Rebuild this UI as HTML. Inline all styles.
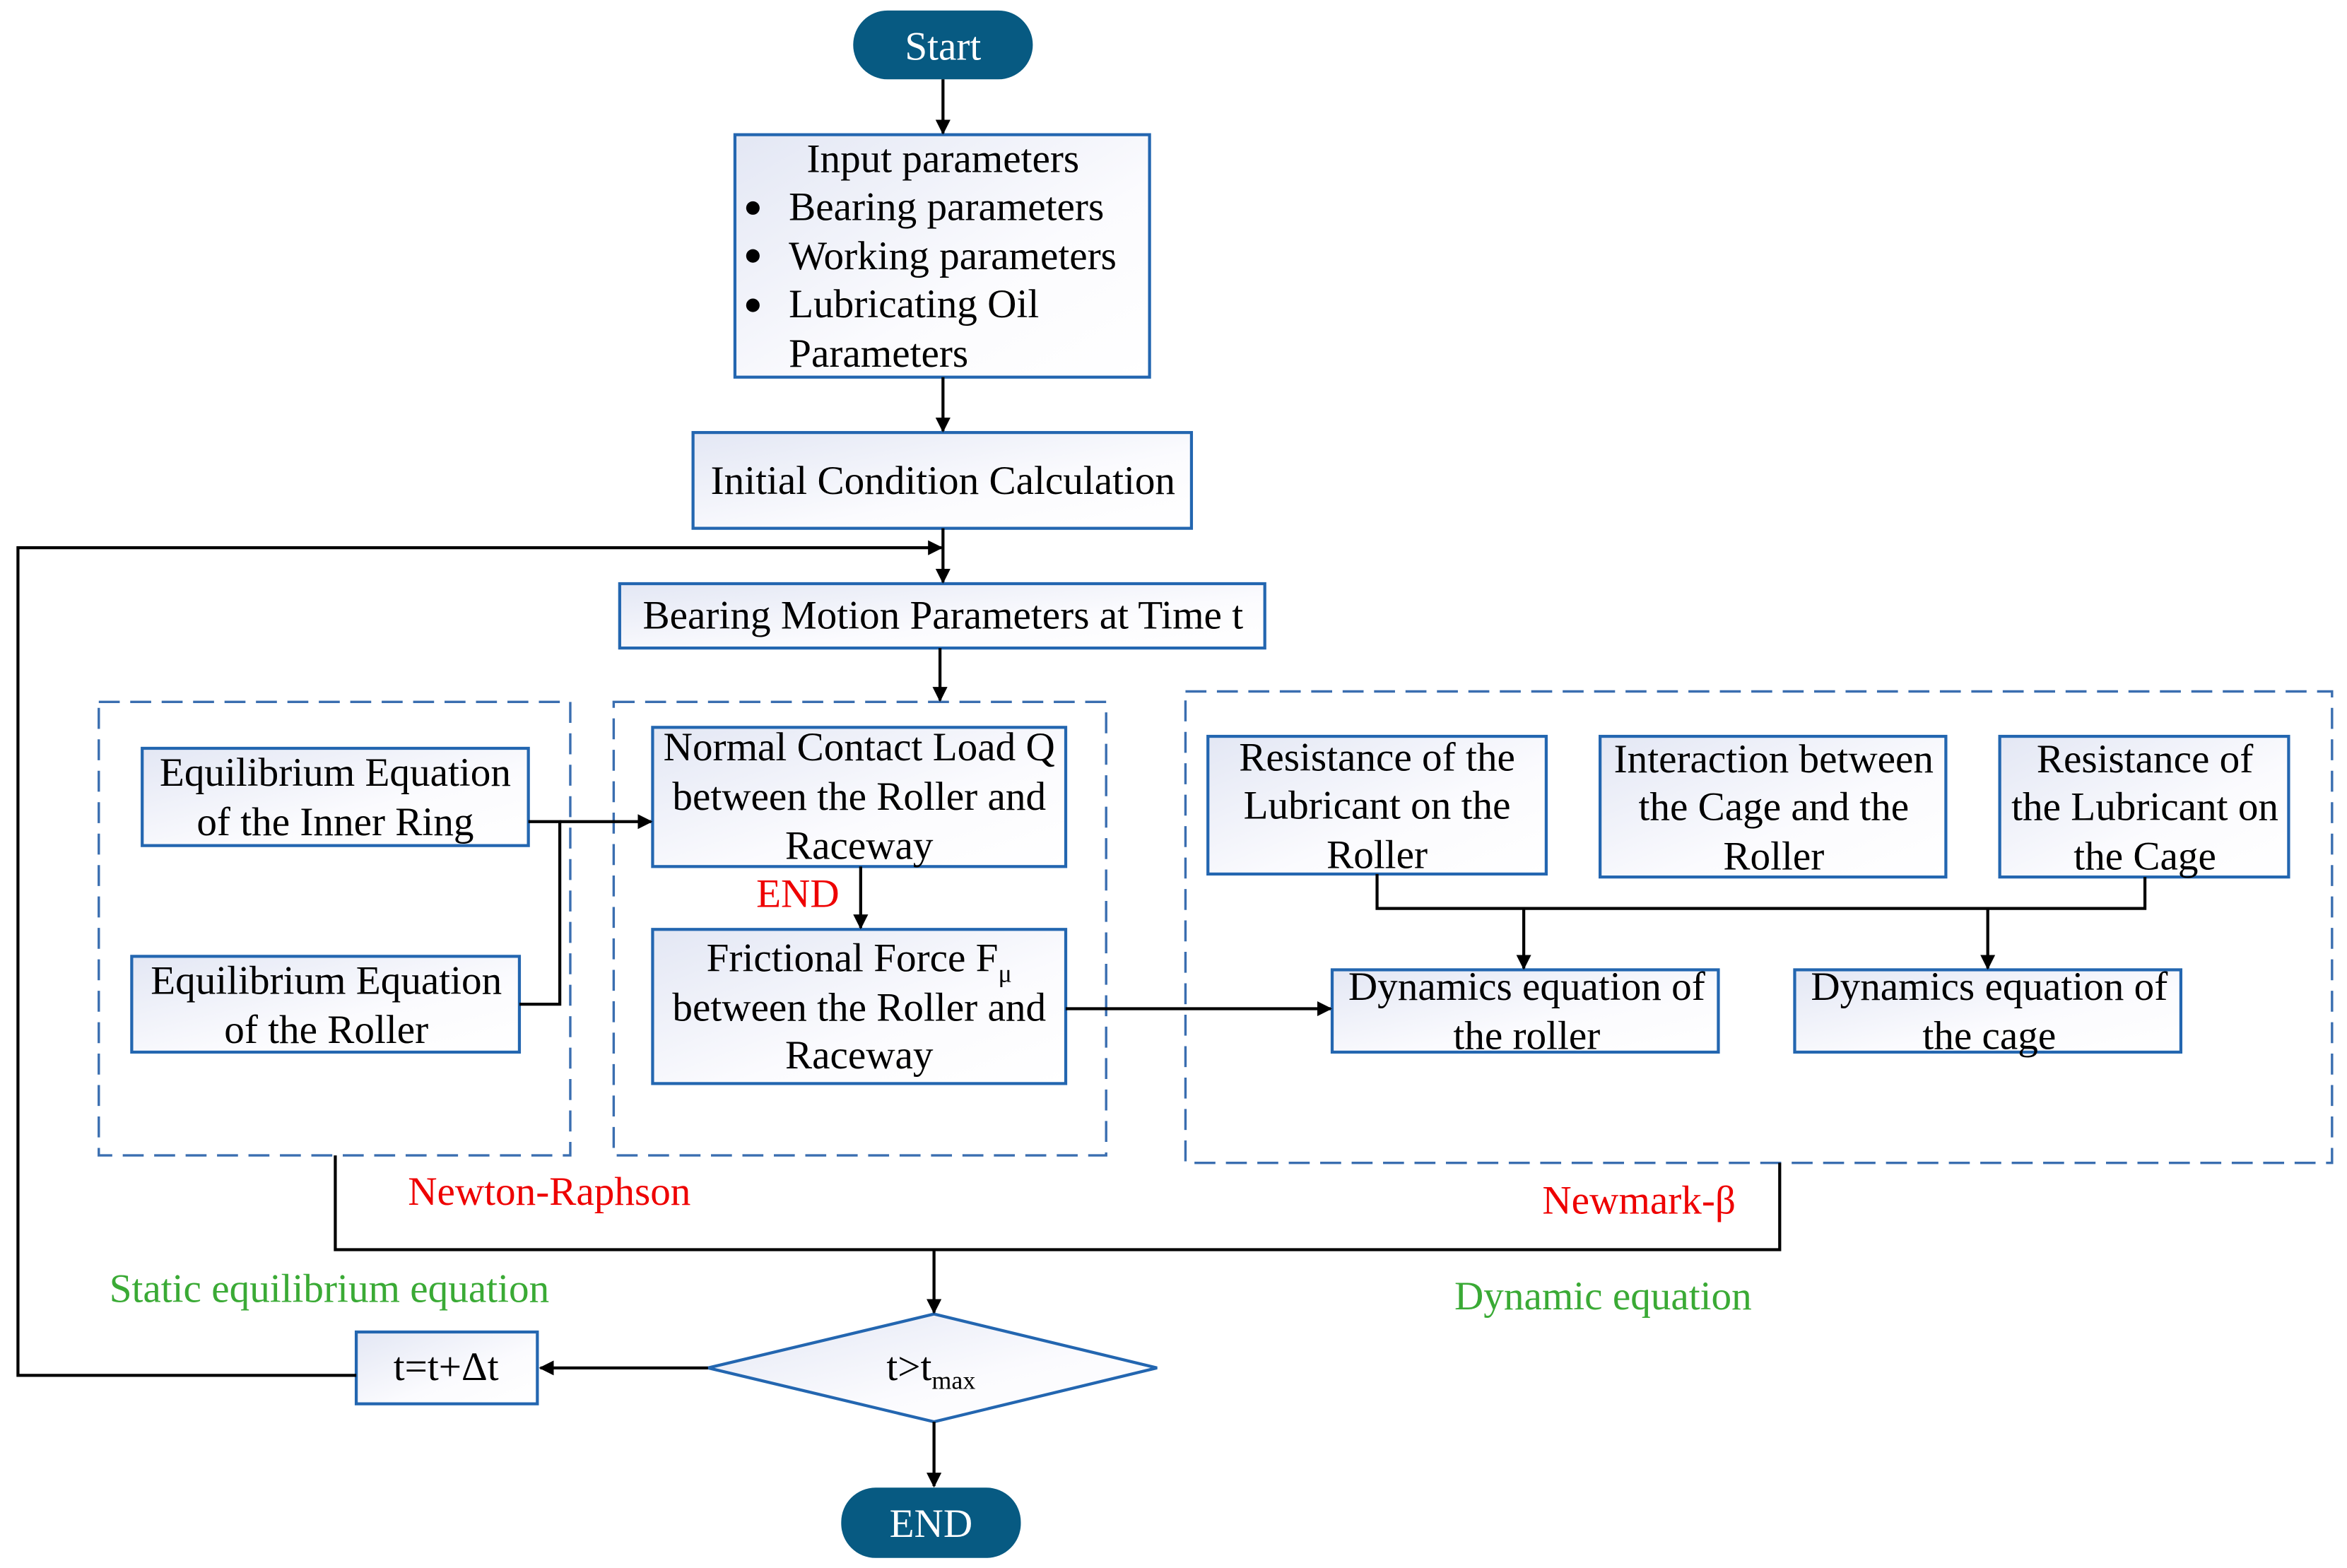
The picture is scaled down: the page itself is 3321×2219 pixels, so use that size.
<!DOCTYPE html>
<html><head><meta charset="utf-8"><style>html,body{margin:0;padding:0;background:#fff}svg{display:block}</style></head>
<body>
<svg width="3321" height="2219" viewBox="0 0 1568 1047.7" preserveAspectRatio="none" xmlns="http://www.w3.org/2000/svg" font-family="Liberation Serif, serif" font-size="27">
<defs>
<linearGradient id="g" x1="0" y1="0" x2="1" y2="1"><stop offset="0" stop-color="#e3e7f4"/><stop offset="0.6" stop-color="#fbfbfe"/><stop offset="1" stop-color="#ffffff"/></linearGradient>
<marker id="a" markerWidth="10" markerHeight="10" refX="9" refY="5" orient="auto" markerUnits="userSpaceOnUse"><path d="M0,0 L10,5 L0,10 Z" fill="#000"/></marker>
</defs>
<g fill="none" stroke="#3a6eb0" stroke-width="1.6" stroke-dasharray="14 7">
<rect x="66" y="469" width="315" height="303"/>
<rect x="410" y="469" width="329" height="303"/>
<rect x="792" y="462" width="766" height="315"/>
</g>
<g fill="url(#g)" stroke="#2366b0" stroke-width="2">
<rect x="491" y="90" width="277" height="162"/>
<rect x="463" y="289" width="333" height="64"/>
<rect x="414" y="390" width="431" height="43"/>
<rect x="95" y="500" width="258" height="65"/>
<rect x="88" y="639" width="259" height="64"/>
<rect x="436" y="486" width="276" height="93"/>
<rect x="436" y="621" width="276" height="103"/>
<rect x="807" y="492" width="226" height="92"/>
<rect x="1069" y="492" width="231" height="94"/>
<rect x="1336" y="492" width="193" height="94"/>
<rect x="890" y="648" width="258" height="55"/>
<rect x="1199" y="648" width="258" height="55"/>
<rect x="238" y="890" width="121" height="48"/>
<polygon points="473,914 624,878 773,914 624,950"/>
</g>
<rect x="570" y="7" width="120" height="46" rx="23" fill="#075a82"/>
<rect x="562" y="994" width="120" height="47" rx="23" fill="#075a82"/>
<g stroke="#000" stroke-width="2" fill="none">
<line x1="630" y1="53" x2="630" y2="89" marker-end="url(#a)"/>
<line x1="630" y1="252" x2="630" y2="288" marker-end="url(#a)"/>
<line x1="630" y1="353" x2="630" y2="389" marker-end="url(#a)"/>
<polyline points="238,919 12,919 12,366 629,366" marker-end="url(#a)"/>
<line x1="628" y1="433" x2="628" y2="468" marker-end="url(#a)"/>
<polyline points="353,549 374,549 374,671 347,671"/>
<line x1="374" y1="549" x2="435" y2="549" marker-end="url(#a)"/>
<line x1="575" y1="579" x2="575" y2="620" marker-end="url(#a)"/>
<line x1="712" y1="674" x2="889" y2="674" marker-end="url(#a)"/>
<polyline points="920,584 920,607 1433,607 1433,586"/>
<line x1="1018" y1="607" x2="1018" y2="647" marker-end="url(#a)"/>
<line x1="1328" y1="607" x2="1328" y2="647" marker-end="url(#a)"/>
<polyline points="224,772 224,835 1189,835 1189,777"/>
<line x1="624" y1="835" x2="624" y2="877" marker-end="url(#a)"/>
<line x1="473" y1="914" x2="361" y2="914" marker-end="url(#a)"/>
<line x1="624" y1="950" x2="624" y2="993" marker-end="url(#a)"/>
</g>
<g fill="#000" text-anchor="middle">
<text x="630" y="40" fill="#fff">Start</text>
<text x="622" y="1027" fill="#fff">END</text>
<text x="630" y="115">Input parameters</text>
<text x="630" y="330">Initial Condition Calculation</text>
<text x="630" y="420">Bearing Motion Parameters at Time t</text>
<text x="224" y="525">Equilibrium Equation</text>
<text x="224" y="558">of the Inner Ring</text>
<text x="218" y="664">Equilibrium Equation</text>
<text x="218" y="697">of the Roller</text>
<text x="574" y="508">Normal Contact Load Q</text>
<text x="574" y="541">between the Roller and</text>
<text x="574" y="574">Raceway</text>
<text x="574" y="649">Frictional Force F<tspan font-size="17" dy="7">μ</tspan></text>
<text x="574" y="682">between the Roller and</text>
<text x="574" y="714">Raceway</text>
<text x="920" y="515">Resistance of the</text>
<text x="920" y="547">Lubricant on the</text>
<text x="920" y="580">Roller</text>
<text x="1185" y="516">Interaction between</text>
<text x="1185" y="548">the Cage and the</text>
<text x="1185" y="581">Roller</text>
<text x="1433" y="516">Resistance of</text>
<text x="1433" y="548">the Lubricant on</text>
<text x="1433" y="581">the Cage</text>
<text x="1020" y="668">Dynamics equation of</text>
<text x="1020" y="701">the roller</text>
<text x="1329" y="668">Dynamics equation of</text>
<text x="1329" y="701">the cage</text>
<text x="298" y="922">t=t+Δt</text>
<text x="622" y="922">t&gt;t<tspan font-size="17" dy="6">max</tspan></text>
<text x="533" y="606" fill="#e00">END</text>
<text x="367" y="805" fill="#e00">Newton-Raphson</text>
<text x="1095" y="811" fill="#e00">Newmark-β</text>
<text x="220" y="870" fill="#3aaa35">Static equilibrium equation</text>
<text x="1071" y="875" fill="#3aaa35">Dynamic equation</text>
</g>
<g fill="#000">
<circle cx="503" cy="139" r="4.5"/><circle cx="503" cy="171" r="4.5"/><circle cx="503" cy="204" r="4.5"/>
<text x="527" y="147">Bearing parameters</text>
<text x="527" y="180">Working parameters</text>
<text x="527" y="212">Lubricating Oil</text>
<text x="527" y="245">Parameters</text>
</g>
</svg>
</body></html>
